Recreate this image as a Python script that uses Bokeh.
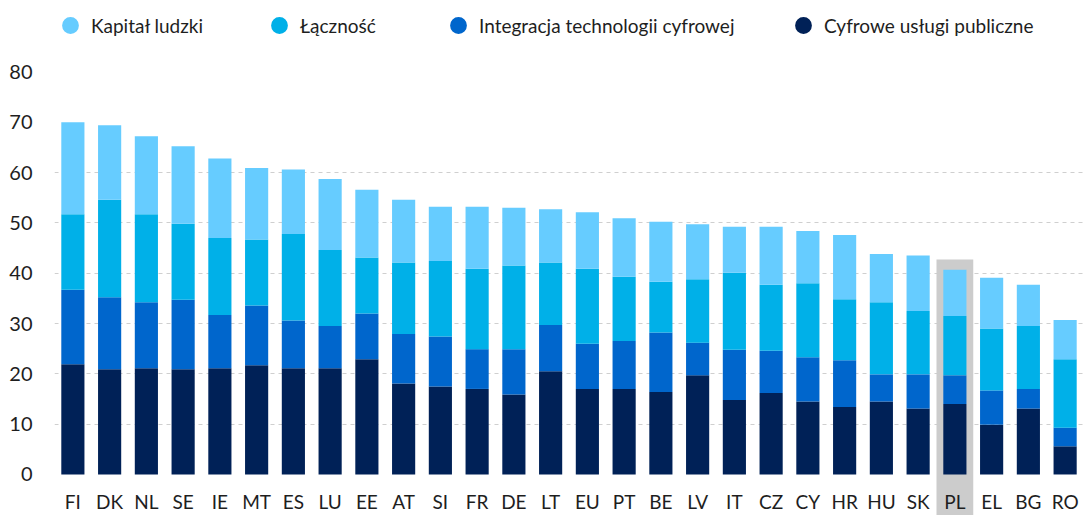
from bokeh.plotting import figure
from bokeh.models import (FactorRange, Range1d, FixedTicker, Legend, LegendItem,
                          ColumnDataSource, LabelSet)
from bokeh.core.properties import value
from bokeh.embed import file_html
from bokeh.resources import INLINE

countries = ["FI", "DK", "NL", "SE", "IE", "MT", "ES", "LU", "EE", "AT", "SI", "FR", "DE", "LT",
             "EU", "PT", "BE", "LV", "IT", "CZ", "CY", "HR", "HU", "SK", "PL", "EL", "BG", "RO"]

cyfrowe_uslugi = [21.9, 20.9, 21.1, 20.9, 21.1, 21.7, 21.1, 21.1, 22.9, 18.1, 17.5, 17.0, 15.9, 20.5,
                  17.0, 17.0, 16.4, 19.7, 14.8, 16.2, 14.5, 13.4, 14.5, 13.1, 14.0, 9.9, 13.1, 5.6]
integracja = [14.8, 14.3, 13.1, 13.8, 10.6, 11.9, 9.5, 8.4, 9.1, 9.8, 9.9, 7.9, 9.0, 9.2,
              9.0, 9.5, 11.8, 6.5, 10.0, 8.4, 8.8, 9.3, 5.4, 6.8, 5.7, 6.8, 3.9, 3.7]
lacznosc = [15.0, 19.4, 17.5, 15.1, 15.3, 13.1, 17.2, 15.1, 11.1, 14.2, 15.0, 16.0, 16.6, 12.4,
            14.9, 12.8, 10.1, 12.6, 15.3, 13.1, 14.7, 12.1, 14.3, 12.6, 11.8, 12.3, 12.5, 13.6]
kapital = [18.3, 14.8, 15.5, 15.4, 15.8, 14.2, 12.8, 14.1, 13.5, 12.5, 10.8, 12.3, 11.5, 10.6,
           11.2, 11.6, 11.9, 10.9, 9.1, 11.5, 10.4, 12.8, 9.6, 11.0, 9.2, 10.1, 8.2, 7.8]

series_keys = ["cyfrowe", "integracja", "lacznosc", "kapital"]
series_labels = {"kapital": "Kapitał ludzki", "lacznosc": "Łączność",
                 "integracja": "Integracja technologii cyfrowej",
                 "cyfrowe": "Cyfrowe usługi publiczne"}
series_colors = {"kapital": "#66CCFF", "lacznosc": "#00B0E8",
                 "integracja": "#0066CC", "cyfrowe": "#002157"}
legend_order = ["kapital", "lacznosc", "integracja", "cyfrowe"]

y_ticks = [0, 10, 20, 30, 40, 50, 60, 70, 80]
grid_ticks = [10, 20, 30, 40, 50, 60]

highlight = "PL"
highlight_top = 42.7

FONT = "Lato"
TEXT_COLOR = "#1E1E1E"

y_start, y_end = -8.15, 94.18
label_y = -5.3

source = ColumnDataSource(data=dict(country=countries, cyfrowe=cyfrowe_uslugi,
                                    integracja=integracja, lacznosc=lacznosc,
                                    kapital=kapital,
                                    label_y=[label_y] * len(countries)))

p = figure(x_range=FactorRange(*countries), y_range=Range1d(y_start, y_end),
           width=1083, height=515, output_backend="svg", toolbar_location=None,
           min_border_left=54, min_border_right=0, min_border_top=0, min_border_bottom=0)
p.outline_line_color = None
p.background_fill_color = "white"
p.border_fill_color = "white"

# highlight behind PL
p.vbar(x=[highlight], top=[highlight_top], bottom=y_start, width=1.0,
       fill_color="#CCCCCC", line_color=None)

p.vbar_stack(series_keys, x="country", width=0.63, source=source,
             color=[series_colors[k] for k in series_keys], line_color=None)

# category labels at the bottom (so the highlight runs behind them)
labels = LabelSet(x="country", y="label_y", text="country", source=source,
                  text_font=value(FONT), text_font_size=value("19px"),
                  text_color=TEXT_COLOR, text_align="center", text_baseline="middle")
p.add_layout(labels)

p.xaxis.visible = False
p.xgrid.visible = False

yax = p.yaxis[0]
yax.ticker = FixedTicker(ticks=y_ticks)
yax.axis_line_color = None
yax.major_tick_line_color = None
yax.minor_tick_line_color = None
yax.major_tick_out = 0
yax.major_tick_in = 0
yax.major_label_standoff = 22
yax.major_label_text_font = FONT
yax.major_label_text_font_size = "20px"
yax.major_label_text_color = TEXT_COLOR

p.ygrid.ticker = FixedTicker(ticks=grid_ticks)
p.ygrid.grid_line_color = "#CFCFCF"
p.ygrid.grid_line_dash = "4 4"
p.ygrid.grid_line_width = 1

legend_x = [-5, 204, 383, 728]
for k, lx in zip(legend_order, legend_x):
    # off-screen point: only used for drawing the legend marker
    r = p.scatter(x=[countries[0]], y=[y_start - 1000], marker="circle", size=17,
                  fill_color=series_colors[k], line_color=None)
    leg = Legend(items=[LegendItem(label=series_labels[k], renderers=[r])],
                 location=(lx, 469), orientation="horizontal",
                 border_line_color=None, background_fill_alpha=0,
                 padding=0, margin=0, glyph_width=42, glyph_height=42,
                 label_height=42, label_standoff=0,
                 label_text_font=FONT, label_text_font_size="19px",
                 label_text_color=TEXT_COLOR)
    p.add_layout(leg)

open("out.html", "w").write(file_html(p, INLINE))
